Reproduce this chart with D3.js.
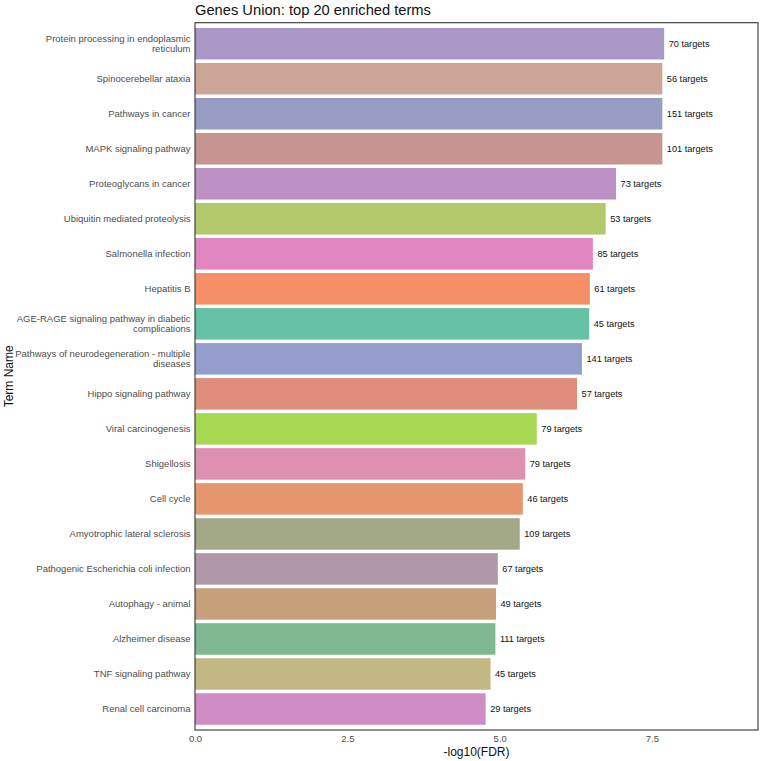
<!DOCTYPE html>
<html>
<head>
<meta charset="utf-8">
<script src="https://cdn.jsdelivr.net/npm/d3@7"></script>
<style>
  body { margin: 0; background: #fff; }
  text { font-family: "Liberation Sans", Arial, Helvetica, sans-serif; }
</style>
</head>
<body>
<div id="plot"></div>
<script>
let terms = [
    'Protein processing in endoplasmic reticulum',
    'Spinocerebellar ataxia',
    'Pathways in cancer',
    'MAPK signaling pathway',
    'Proteoglycans in cancer',
    'Ubiquitin mediated proteolysis',
    'Salmonella infection',
    'Hepatitis B',
    'AGE-RAGE signaling pathway in diabetic complications',
    'Pathways of neurodegeneration - multiple diseases',
    'Hippo signaling pathway',
    'Viral carcinogenesis',
    'Shigellosis',
    'Cell cycle',
    'Amyotrophic lateral sclerosis',
    'Pathogenic Escherichia coli infection',
    'Autophagy - animal',
    'Alzheimer disease',
    'TNF signaling pathway',
    'Renal cell carcinoma'
]

let logFDR = [7.70, 7.67, 7.67, 7.67, 6.91, 6.74, 6.53, 6.48, 6.47, 6.35,
              6.27, 5.61, 5.42, 5.38, 5.33, 4.97, 4.94, 4.93, 4.85, 4.77]

let targets = [70, 56, 151, 101, 73, 53, 85, 61, 45, 141,
               57, 79, 79, 46, 109, 67, 49, 111, 45, 29]

let barColors = ['#a897c7', '#cda597', '#979dc2', '#c89490', '#bd91c5',
                 '#b3c76b', '#e186c0', '#f68e68', '#66c2a5', '#959dcc',
                 '#de8e7b', '#a6d853', '#dd90b0', '#e6966c', '#a3a987',
                 '#b098a8', '#c5a07a', '#80b892', '#c2b883', '#d08cc5']

let xTicks = [0, 2.5, 5, 7.5]

let margin = { top: 22.7, right: 4, bottom: 31, left: 195 },
    width = 762 - margin.left - margin.right,
    height = 761 - margin.top - margin.bottom;

let data = terms.map(function(t, i) {
    return { term: t, value: logFDR[i], n: targets[i], color: barColors[i] };
});

let svg = d3.select('#plot')
    .append('svg')
        .attr('width', 762)
        .attr('height', 761)
    .append('g')
        .attr('transform', 'translate(' + margin.left + ',' + margin.top + ')');

let x = d3.scaleLinear()
    .domain([0, 9.24])
    .range([0, width]);

let y = d3.scaleBand()
    .domain(terms)
    .range([0, height])
    .paddingInner(0.1)
    .paddingOuter(0.15);

// wrap long term names like str_wrap(width = 40)
function wrap(s, w) {
    let words = s.split(' '), lines = [], cur = '';
    words.forEach(function(wd) {
        if (cur.length && (cur + ' ' + wd).length > w) { lines.push(cur); cur = wd; }
        else cur = cur.length ? cur + ' ' + wd : wd;
    });
    lines.push(cur);
    return lines;
}

svg.selectAll('.bar')
    .data(data)
    .enter()
    .append('rect')
        .attr('x', 0)
        .attr('y', function(d) { return y(d.term) })
        .attr('width', function(d) { return x(d.value) })
        .attr('height', y.bandwidth())
        .style('fill', function(d) { return d.color });

svg.selectAll('.lab')
    .data(data)
    .enter()
    .append('text')
        .attr('x', function(d) { return x(d.value) + 4.5 })
        .attr('y', function(d) { return y(d.term) + y.bandwidth() / 2 })
        .attr('dy', '0.35em')
        .style('font-size', '9.2px')
        .style('fill', '#111')
        .text(function(d) { return d.n + ' targets' });

// y axis
let yAxis = svg.append('g')
    .call(d3.axisLeft(y).tickSize(0).tickPadding(4.5));
yAxis.select('.domain').remove();
yAxis.selectAll('text')
    .style('font-size', '9.5px')
    .style('fill', '#4d4d4d')
    .attr('dy', null)
    .each(function(d) {
        let lines = wrap(d, 40),
            lh = 10.7,
            t = d3.select(this).text(null);
        lines.forEach(function(l, i) {
            t.append('tspan')
                .attr('x', -4.5)
                .attr('y', (i - (lines.length - 1) / 2) * lh)
                .attr('dy', '0.34em')
                .text(l);
        });
    });

// x axis
let xAxis = svg.append('g')
    .attr('transform', 'translate(0,' + height + ')')
    .call(d3.axisBottom(x).tickValues(xTicks).tickFormat(d3.format('.1f')).tickSize(0).tickPadding(5));
xAxis.select('.domain').remove();
xAxis.selectAll('text')
    .style('font-size', '9.5px')
    .style('fill', '#4d4d4d');

// panel border
svg.append('rect')
    .attr('x', 0)
    .attr('y', 0)
    .attr('width', width)
    .attr('height', height)
    .style('fill', 'none')
    .style('stroke', '#333')
    .style('stroke-width', 1.1);

svg.append('text')
    .attr('x', width / 2)
    .attr('y', height + 26)
    .style('text-anchor', 'middle')
    .style('font-size', '12px')
    .style('fill', '#111')
    .text('-log10(FDR)');

svg.append('text')
    .attr('transform', 'translate(' + (13 - margin.left) + ',' + (height / 2) + ') rotate(-90)')
    .style('text-anchor', 'middle')
    .style('font-size', '12px')
    .style('fill', '#111')
    .text('Term Name');

svg.append('text')
    .attr('x', 0)
    .attr('y', 15 - margin.top)
    .style('font-size', '14.7px')
    .style('fill', '#111')
    .text('Genes Union: top 20 enriched terms');
</script>
</body>
</html>
